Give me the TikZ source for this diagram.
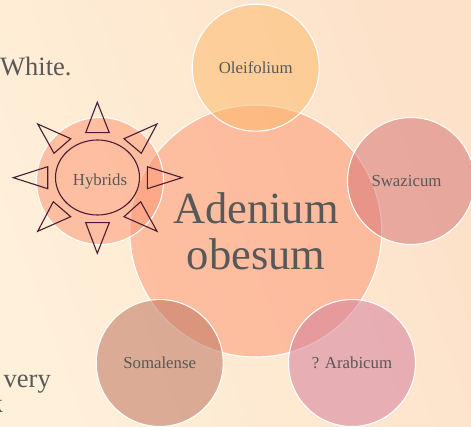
\documentclass[tikz,border=0pt]{standalone}
\usepackage{fontspec}
\setmainfont{Liberation Serif}
\definecolor{bgl}{RGB}{255,240,217}
\definecolor{bgr}{RGB}{253,225,201}
\definecolor{txt}{RGB}{88,88,88}
\definecolor{sunline}{RGB}{75,28,50}
\definecolor{cmain}{RGB}{253,150,115}
\definecolor{cole}{RGB}{253,185,106}
\definecolor{cswa}{RGB}{215,116,118}
\definecolor{cara}{RGB}{211,125,155}
\definecolor{csom}{RGB}{187,113,92}
\tikzset{
 x=1pt,y=-1pt,
 disc/.style={circle,inner sep=0pt,minimum size=#1,draw=white,line width=1.1pt,fill opacity=.53,text opacity=1,text=txt,align=center,font=\fontsize{16.8}{19}\selectfont},
 ray/.style={draw=sunline,line width=1.1pt,line join=miter},
 sidetext/.style={inner sep=0pt,text=txt,font=\fontsize{26.5}{30}\selectfont}
}
\begin{document}
\begin{tikzpicture}
\useasboundingbox (0,0) rectangle (471,427);
\clip (0,0) rectangle (471,427);
\shade[left color=bgl,right color=bgr,shading angle=110] (0,0) rectangle (471,427);
\node[sidetext,anchor=base west] (white) at (0,76) {White.};
\node[sidetext,anchor=base east] (very) at (51,387) {very};
\node[sidetext,anchor=base east] (kk) at (3,412) {k};
\node[disc=252pt,fill=cmain] (main) at (255.7,231) {};
\node[disc=127pt,fill=cole] (ole) at (255.7,67.7) {Oleifolium};
\node[disc=127pt,fill=cswa] (swa) at (411,181) {Swazicum\hspace*{9pt}};
\node[disc=127pt,fill=cara] (ara) at (352,363) {? Arabicum};
\node[disc=127pt,fill=csom] (som) at (159.7,363) {Somalense};
\node[disc=127pt,fill=cmain] (hyb) at (100,181) {Hybrids};
\node[text=txt,align=center,font=\fontsize{44.5}{46}\selectfont] (title) at (256,231) {Adenium\\obesum};
\coordinate (sun) at (97.5,177.5);
\draw[ray] (sun) ellipse [x radius=42,y radius=37.5];
\draw[ray] (97.3,102.3) -- (85.7,132.7) -- (109.3,132.7) -- cycle;
\draw[ray] (97.3,253.3) -- (85.7,222.7) -- (109.3,222.7) -- cycle;
\draw[ray] (13.3,177.7) -- (47.7,166.7) -- (47.7,188.7) -- cycle;
\draw[ray] (182,177.7) -- (147.3,166.7) -- (147.3,188.7) -- cycle;
\draw[ray] (37.7,124) -- (70.7,138.7) -- (54,153.3) -- cycle;
\draw[ray] (157,124) -- (124,138.7) -- (141.3,153.3) -- cycle;
\draw[ray] (37.7,231.3) -- (70.7,216.7) -- (53.3,201.7) -- cycle;
\draw[ray] (157,231.3) -- (124,216.7) -- (140.7,201.7) -- cycle;
\end{tikzpicture}
\end{document}
